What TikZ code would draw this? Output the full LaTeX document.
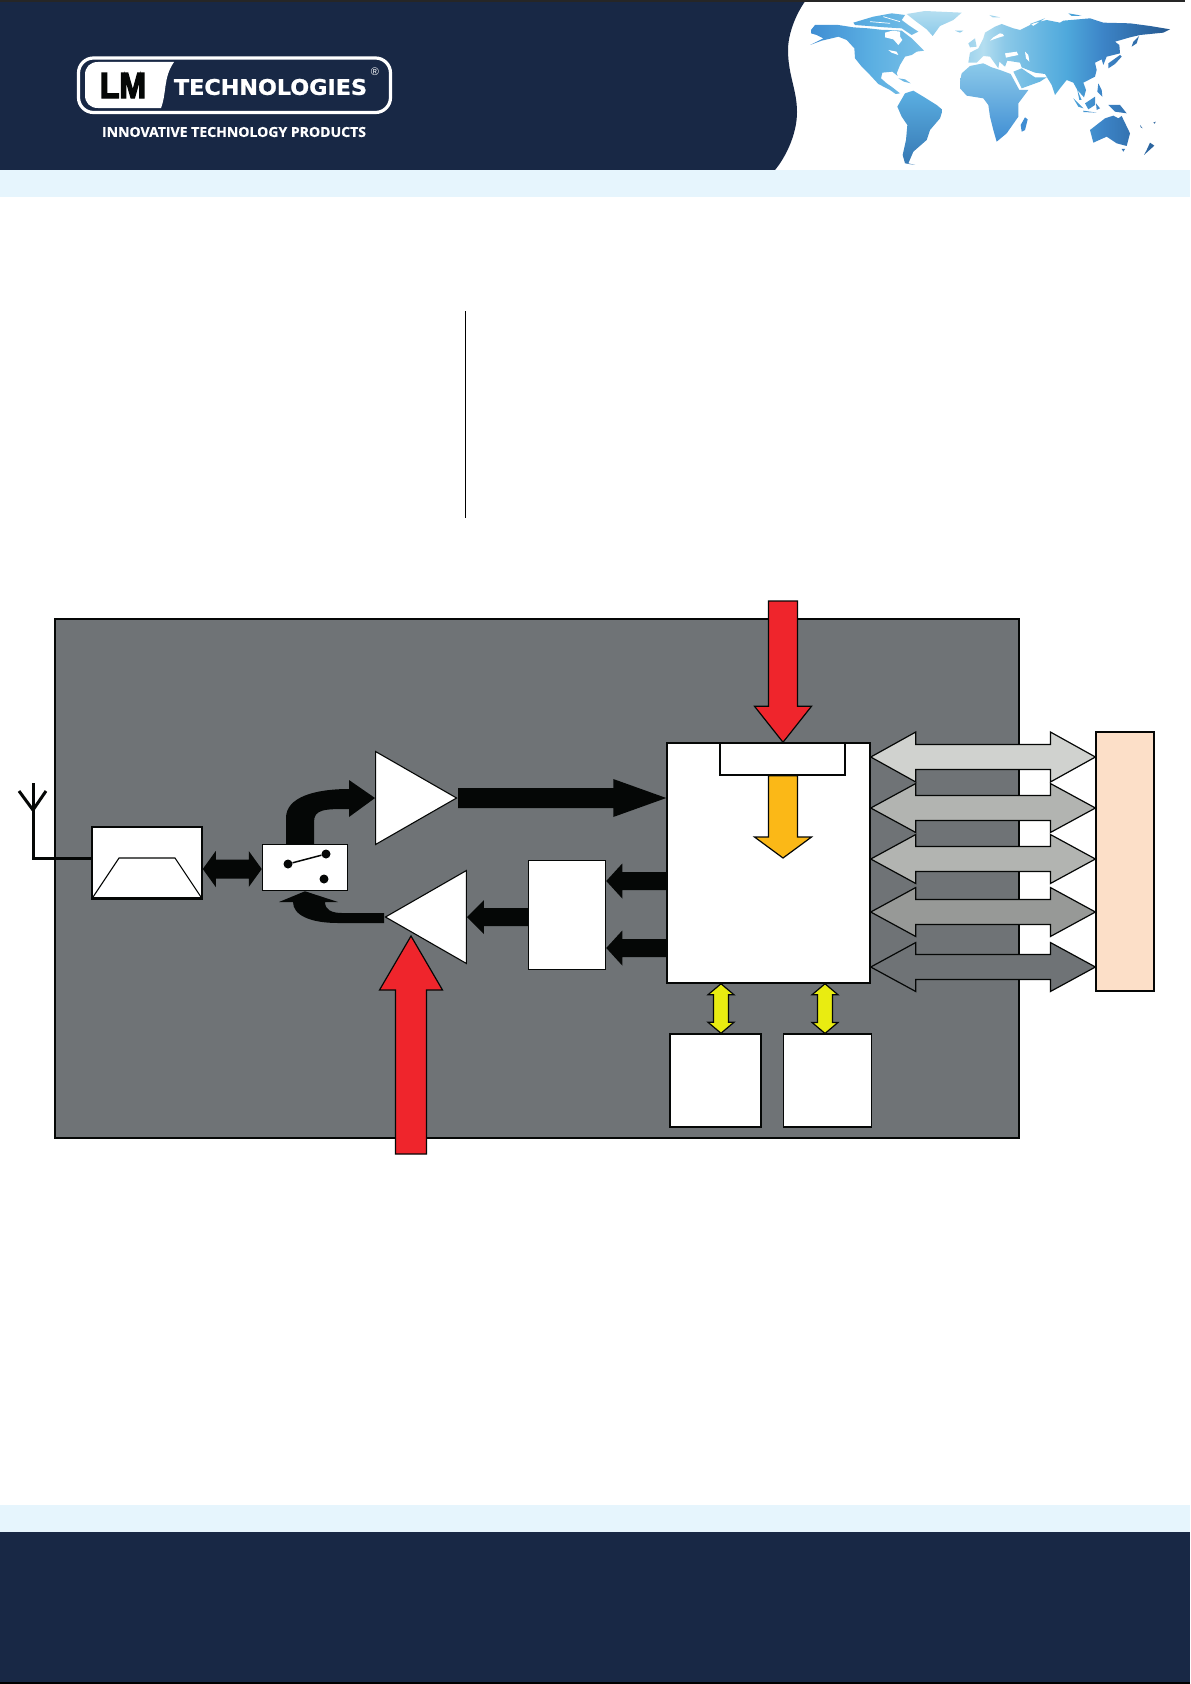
\documentclass[tikz,border=0pt]{standalone}
\usepackage{graphicx}
\usepackage{fontspec}
\usetikzlibrary{calc,shapes.geometric}
\newfontfamily\logosans{Liberation Sans}
\newfontfamily\logoheavy[FakeBold=4]{Liberation Sans Bold}
\newfontfamily\logowide[FakeBold=1]{DejaVu Sans Bold}
\newfontfamily\logotag[FakeBold=0.6]{Open Sans Bold}
\definecolor{navy}{HTML}{182845}
\definecolor{band}{HTML}{E6F5FD}
\definecolor{boardgray}{HTML}{6F7376}
\definecolor{ink}{HTML}{050706}
\definecolor{redarrow}{HTML}{EF252C}
\definecolor{orangearrow}{HTML}{FBB817}
\definecolor{yellowarrow}{HTML}{E9EC11}
\definecolor{peach}{HTML}{FCDFC8}
\definecolor{busa}{HTML}{D0D2CF}
\definecolor{busb}{HTML}{B2B4B1}
\definecolor{busc}{HTML}{979997}
\definecolor{mapa}{HTML}{3F8DD3}
\definecolor{mapb}{HTML}{5BAFE2}
\definecolor{mapc}{HTML}{8CCAEA}
\definecolor{mapd}{HTML}{B4DEF0}
\definecolor{mape}{HTML}{8CC9E8}
\definecolor{mapi}{HTML}{6FBAE3}
\definecolor{mapf}{HTML}{4FA9DC}
\definecolor{mapg}{HTML}{3D85C8}
\definecolor{maph}{HTML}{25588F}
\pgfdeclarehorizontalshading{mapshade}{100bp}{color(0bp)=(mapa);color(25bp)=(mapa);color(33.5bp)=(mapb);color(45bp)=(mapc);color(49bp)=(mapd);color(52bp)=(mape);color(56bp)=(mapi);color(60.5bp)=(mapf);color(65.5bp)=(mapg);color(75bp)=(maph);color(100bp)=(maph)}
\tikzset{
  blockbox/.style={draw=ink,fill=white,line width=1.5bp,inner sep=0pt,rectangle},
  amptri/.style={draw=ink,fill=white,line width=1.1bp,inner sep=0pt,isosceles triangle,isosceles triangle stretches},
  solidarrow/.style={fill=ink},
  outarrow/.style={draw=ink,line width=1.2bp,line join=miter},
  contact/.style={circle,fill=ink,inner sep=0pt,minimum size=9bp}
}
% straight block arrow: style, from, to, half shaft, half head, head length
\newcommand\blockarrow[6]{%
  \coordinate (ss) at (#2);\coordinate (tt) at (#3);
  \coordinate (bb) at ($(tt)!#6!(ss)$);
  \path[#1] ($(ss)!#4!90:(tt)$) -- ($(bb)!#4!90:(tt)$) -- ($(bb)!#5!90:(tt)$) -- (tt)
    -- ($(bb)!#5!-90:(tt)$) -- ($(bb)!#4!-90:(tt)$) -- ($(ss)!#4!-90:(tt)$) -- cycle;}
% double block arrow: style, from, to, half shaft, half head, head length
\newcommand\twinarrow[6]{%
  \coordinate (ss) at (#2);\coordinate (tt) at (#3);
  \coordinate (bb) at ($(tt)!#6!(ss)$);\coordinate (aa) at ($(ss)!#6!(tt)$);
  \path[#1] (ss) -- ($(aa)!#5!-90:(ss)$) -- ($(aa)!#4!-90:(ss)$) -- ($(bb)!#4!90:(tt)$) -- ($(bb)!#5!90:(tt)$) -- (tt)
    -- ($(bb)!#5!-90:(tt)$) -- ($(bb)!#4!-90:(tt)$) -- ($(aa)!#4!90:(ss)$) -- ($(aa)!#5!90:(ss)$) -- cycle;}
\begin{document}
\begin{tikzpicture}[x=1bp,y=-1bp]
\useasboundingbox (0,0) rectangle (1190,1684);
\fill[white] (0,0) rectangle (1190,1684);
% header and footer
\fill[navy] (0,0) -- (806,0) .. controls (795,15) and (788,35) .. (788,50) .. controls (788,75) and (797,90) .. (797,112) .. controls (797,135) and (785,158) .. (775,170) -- (0,170) -- cycle;
\fill[band] (0,170) rectangle (1190,197);
\fill[band] (0,1505) rectangle (1190,1532);
\fill[navy] (0,1532) rectangle (1190,1682);
\fill[black] (0,1682) rectangle (1190,1684);
\fill[black!85] (0,0) rectangle (1185,1.6);
% logo
\draw[white,line width=3.2bp,rounded corners=15bp] (78.5,58) rectangle (390.5,112.5);
\fill[white] (174,62) -- (98,62) .. controls (90,62) and (85,67) .. (85,75) -- (85,95) .. controls (85,103) and (90,108) .. (98,108) -- (161,108) .. controls (167,92) and (163,78) .. (174,62) -- cycle;
\node[inner sep=0pt,text=ink] (logoLM) at (123,85.5) {\resizebox{46bp}{25bp}{\logoheavy LM}};
\node[inner sep=0pt,text=white] (logoTech) at (270.5,87) {\resizebox{193bp}{16bp}{\logowide TECHNOLOGIES}};
\node[inner sep=0pt,text=white,font=\logosans\fontsize{11}{11}\selectfont] (logoReg) at (375,72) {®};
\node[inner sep=0pt,text=white] (logoTag) at (234,132) {\resizebox{264bp}{10bp}{\logotag INNOVATIVE TECHNOLOGY PRODUCTS}};
% world map (3x coordinates, origin x=990)
\begin{scope}[shift={(990,0)},x=0.33333bp,y=-0.33333bp]
\shade[shading=mapshade]
 % North America
 (-537,90) -- (-525,75) -- (-455,75) -- (-410,82) -- (-365,85) -- (-320,90) -- (-305,90) -- (-265,92) -- (-235,115) -- (-210,140) -- (-198,152) -- (-220,155) -- (-235,165) -- (-255,170) -- (-270,195) -- (-280,220) -- (-277,228) -- (-293,215) -- (-323,218) -- (-327,235) -- (-310,250) -- (-293,262) -- (-270,280) -- (-283,282) -- (-300,270) -- (-335,252) -- (-360,225) -- (-385,200) -- (-405,175) -- (-407,145) -- (-430,120) -- (-455,110) -- (-475,115) -- (-505,122) -- (-540,135) -- (-500,115) -- (-520,105) -- (-537,100) -- cycle
 % Arctic islands
 (-410,68) -- (-350,50) -- (-295,40) -- (-255,45) -- (-265,60) -- (-245,75) -- (-215,95) -- (-235,105) -- (-265,85) -- (-315,82) -- (-365,78) -- (-405,75) -- cycle
 % Cuba
 (-275,235) -- (-255,238) -- (-238,250) -- (-258,245) -- cycle
 % Iceland, Britain
 (-105,92) -- (-80,92) -- (-90,98) -- cycle
 (-65,130) -- (-45,115) -- (-40,140) -- (-60,142) -- cycle
 % Eurasia
 (-65,188) -- (-40,188) -- (-20,168) -- (0,170) -- (25,205) -- (28,185) -- (45,200) -- (52,182) -- (90,188) -- (95,202) -- (110,208) -- (135,218) -- (165,222) -- (185,255) -- (195,285) -- (210,265) -- (230,240) -- (250,248) -- (262,270) -- (282,292) -- (288,270) -- (280,248) -- (315,230) -- (320,210) -- (315,188) -- (335,178) -- (340,195) -- (350,170) -- (390,160) -- (388,135) -- (375,125) -- (420,112) -- (450,105) -- (520,98) -- (540,88) -- (480,78) -- (420,70) -- (340,68) -- (300,55) -- (220,62) -- (210,68) -- (170,60) -- (130,70) -- (90,90) -- (70,85) -- (35,72) -- (15,80) -- (-15,98) -- (-20,115) -- (-35,145) -- (-60,158) -- cycle
 % Arabia
 (70,215) -- (95,265) -- (150,245) -- (170,232) -- (135,232) -- (112,217) -- (95,205) -- cycle
 % Japan, Sakhalin, Arctic Russia
 (355,190) -- (390,165) -- (395,170) -- (375,192) -- (355,205) -- cycle
 (430,125) -- (447,108) -- (440,130) -- (425,140) -- cycle
 (235,40) -- (275,47) -- (245,48) -- cycle
 (-2,45) -- (30,52) -- (8,52) -- cycle
 (120,72) -- (165,55) -- (130,78) -- cycle
 % South-East Asia
 (262,270) -- (275,300) -- (268,300) -- cycle
 (250,295) -- (280,325) -- (265,320) -- cycle
 (280,332) -- (320,338) -- (280,336) -- cycle
 (285,310) -- (315,290) -- (315,315) -- (295,328) -- cycle
 (325,250) -- (335,270) -- (337,290) -- (322,275) -- cycle
 (318,310) -- (330,325) -- (320,330) -- cycle
 (355,315) -- (390,315) -- (410,340) -- (375,335) -- cycle
 % Australia and islands
 (300,390) -- (345,355) -- (370,347) -- (385,355) -- (395,348) -- (420,400) -- (410,438) -- (380,430) -- (350,410) -- (310,428) -- cycle
 (395,447) -- (405,447) -- (400,455) -- cycle
 (480,428) -- (493,437) -- (462,465) -- (470,450) -- cycle
 (450,375) -- (458,385) -- (452,382) -- cycle
 (490,368) -- (497,365) -- (494,371) -- cycle;
% Greenland
\shade[top color=mapd,bottom color=mapc] (-250,42) -- (-195,33) -- (-85,38) -- (-110,60) -- (-150,78) -- (-172,108) -- (-190,88) -- (-225,62) -- cycle;
% South America
\shade[top color=mapb,bottom color=mapa!85!black] (-278,320) -- (-255,280) -- (-230,272) -- (-200,290) -- (-160,315) -- (-142,330) -- (-150,355) -- (-180,390) -- (-190,420) -- (-230,455) -- (-245,490) -- (-225,495) -- (-255,490) -- (-262,465) -- (-252,420) -- (-248,375) -- (-265,350) -- cycle;
% Africa
\shade[top color=mapc,bottom color=mapa] (-90,245) -- (-85,220) -- (-60,198) -- (-20,190) -- (5,202) -- (30,210) -- (62,222) -- (88,270) -- (115,270) -- (85,310) -- (85,350) -- (50,400) -- (20,425) -- (10,390) -- (0,350) -- (-5,315) -- (-20,295) -- (-70,287) -- (-90,265) -- cycle;
\fill[mapa] (105,352) -- (113,358) -- (105,390) -- (95,395) -- (92,375) -- cycle;
% inland waters
\fill[white] (-315,98) -- (-293,92) -- (-270,95) -- (-270,110) -- (-263,120) -- (-275,135) -- (-290,118) -- (-315,112) -- cycle;
\fill[white] (-305,150) -- (-280,155) -- (-275,165) -- (-295,158) -- cycle;
\fill[white] (45,160) -- (80,155) -- (85,165) -- (60,170) -- (48,173) -- cycle;
\fill[white] (105,155) -- (115,165) -- (118,185) -- (108,175) -- cycle;
\fill[white] (30,100) -- (10,112) -- (0,122) -- (25,113) -- (42,108) -- (38,102) -- cycle;
\draw[white,line width=0.7bp] (-385,205) -- (-365,235);
\draw[white,line width=0.7bp] (-360,65) -- (-300,70);
\draw[white,line width=0.7bp] (-320,50) -- (-270,65);
\end{scope}
% centre rule
\draw[black,line width=0.8bp] (465,311) -- (465,518);
% board
\fill[boardgray,draw=ink,line width=1.4bp] (55,619) rectangle (1019,1138);
% blocks
\node[blockbox,minimum width=110bp,minimum height=71bp] (filter) at (147,862.5) {};
\node[blockbox,minimum width=85bp,minimum height=46bp] (switch) at (305,867.5) {};
\node[amptri,anchor=apex,minimum width=93bp,minimum height=81bp] (amplna) at (458,798) {};
\node[amptri,anchor=apex,shape border rotate=180,minimum width=93bp,minimum height=81bp] (amppa) at (384,917) {};
\node[blockbox,minimum width=77bp,minimum height=109bp] (dac) at (567,915) {};
\node[blockbox,minimum width=203bp,minimum height=240bp] (cpu) at (768.5,863) {};
\node[blockbox,minimum width=125bp,minimum height=32bp] (reg) at (782.5,759) {};
\node[blockbox,minimum width=91bp,minimum height=93bp] (ram) at (715.5,1080.5) {};
\node[blockbox,line width=1.1bp,minimum width=87.5bp,minimum height=93bp] (rom) at (827.5,1080.5) {};
\node[blockbox,fill=peach,line width=1.2bp,minimum width=58bp,minimum height=259bp] (conn) at (1125,861.5) {};
% filter passband glyph
\draw[ink,line width=1.1bp] (93,897) -- (119,858) -- (175,858) -- (201,897);
\draw[ink,line width=2.2bp] (filter.south west) -- (filter.south east);
% antenna
\coordinate (antBranch) at (33,810);
\coordinate (antTop) at (33,783);
\coordinate (antL) at (19,791);
\coordinate (antR) at (46,791);
\draw[ink,line width=3bp] (filter.west |- 0,858) -| (antTop);
\draw[ink,line width=3bp] (antL) -- (antBranch) -- (antR);
% switch glyph
\node[contact] (swA) at (288,864) {};
\node[contact] (swB) at (326,854) {};
\node[contact] (swC) at (324,879) {};
\draw[ink,line width=1.5bp] (swA) -- (swB);
% black connectors
\twinarrow{solidarrow}{filter.east |- 0,869}{switch.west |- 0,869}{9.5bp}{18bp}{13bp}
\blockarrow{solidarrow}{amplna.apex}{cpu.west |- amplna.apex}{10bp}{19bp}{53bp}
\blockarrow{solidarrow}{dac.west |- amppa.lower side}{amppa.lower side}{9bp}{17bp}{17bp}
\blockarrow{solidarrow}{cpu.west |- 0,881}{dac.east |- 0,881}{9bp}{17.5bp}{16bp}
\blockarrow{solidarrow}{cpu.west |- 0,948}{dac.east |- 0,948}{9bp}{17.5bp}{16bp}
\coordinate (upA) at (286,0 |- switch.north);
\coordinate (upB) at (314,0 |- switch.north);
\fill[ink] (upA) -- (286,818) .. controls (286,797) and (315,789) .. (349,789) -- (349,780) -- (amplna.lower side) -- (349,817) -- (349,809) .. controls (325,809) and (314,809) .. (314,822) -- (upB) -- cycle;
\coordinate (pwA) at (amppa.apex |- 0,913);
\coordinate (pwB) at (amppa.apex |- 0,923);
\fill[ink] (pwA) -- (342,913) .. controls (332,913) and (325,910) .. (325,902) -- (338,902) -- (switch.south) -- (279,902) -- (293,902) .. controls (293,915) and (310,923) .. (338,923) -- (pwB) -- cycle;
% coloured connectors
\coordinate (pwrTopStart) at (783,601);
\coordinate (pwrLowStart) at (411,1154);
\coordinate (pwrLowEnd) at (411,936);
\blockarrow{outarrow,fill=redarrow}{pwrTopStart}{reg.north -| 783,0}{14.5bp}{28.5bp}{36bp}
\blockarrow{outarrow,fill=orangearrow}{783,0 |- reg.south}{783,858}{14.5bp}{28.5bp}{21bp}
\blockarrow{outarrow,fill=redarrow}{pwrLowStart}{pwrLowEnd}{15.5bp}{31.5bp}{54bp}
\twinarrow{outarrow,fill=yellowarrow}{721,0 |- cpu.south}{721,0 |- ram.north}{7.5bp}{13bp}{11bp}
\twinarrow{outarrow,fill=yellowarrow}{825,0 |- cpu.south}{825,0 |- rom.north}{7.5bp}{13bp}{11bp}
\twinarrow{outarrow,fill=busa}{cpu.east |- 0,757}{conn.west |- 0,757}{12.5bp}{25bp}{45bp}
\twinarrow{outarrow,fill=busb}{cpu.east |- 0,808}{conn.west |- 0,808}{12.5bp}{24.5bp}{45bp}
\twinarrow{outarrow,fill=busb}{cpu.east |- 0,859}{conn.west |- 0,859}{12.5bp}{24.5bp}{45bp}
\twinarrow{outarrow,fill=busc}{cpu.east |- 0,912}{conn.west |- 0,912}{12.5bp}{24.5bp}{45bp}
\twinarrow{outarrow,fill=boardgray}{cpu.east |- 0,967}{conn.west |- 0,967}{12.5bp}{24.5bp}{45bp}
\end{tikzpicture}
\end{document}
